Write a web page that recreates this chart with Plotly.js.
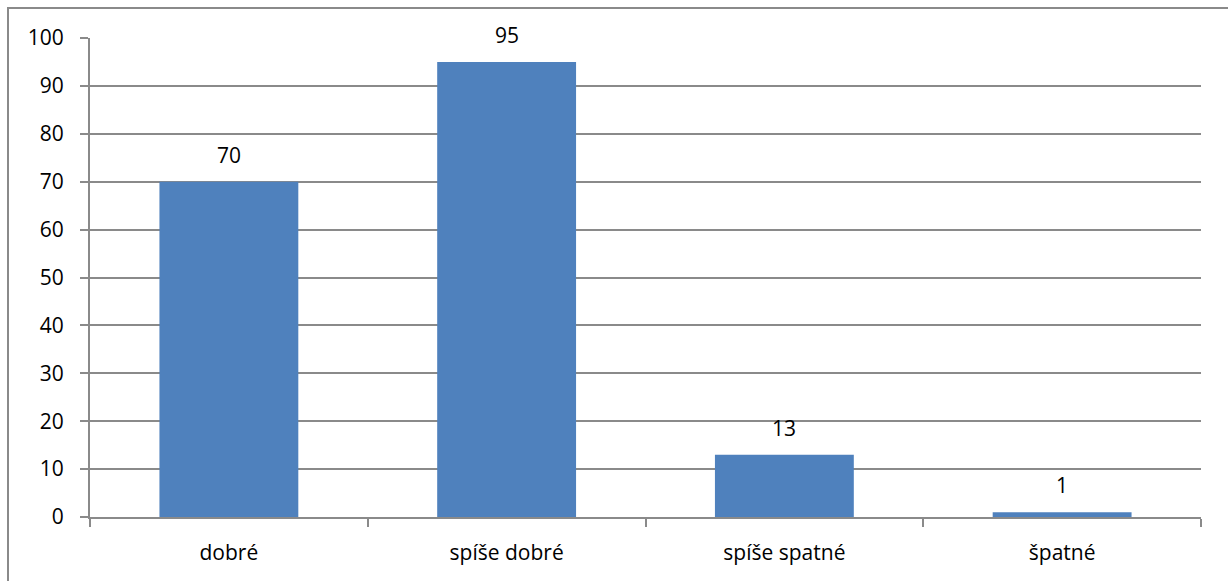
<!DOCTYPE html>
<html>
<head>
<meta charset="utf-8">
<script src="https://cdn.plot.ly/plotly-3.0.1.min.js"></script>
<style>
html,body{margin:0;padding:0;background:#fff;overflow:hidden;}
#wrap{position:relative;width:1228px;height:581px;}
#frame{position:absolute;left:7px;top:7px;width:1300px;height:700px;border-left:2px solid #8a8a8a;border-top:2px solid #8a8a8a;pointer-events:none;}
#chart{position:absolute;left:0;top:0;width:1228px;height:581px;}
</style>
</head>
<body>
<div id="wrap">
<div id="chart"></div>
<div id="frame"></div>
</div>
<script>
const categories = ["dobré", "spíše dobré", "spíše spatné", "špatné"];
const values = [70, 95, 13, 1];
const yTicks = [0, 10, 20, 30, 40, 50, 60, 70, 80, 90, 100];

const FONT = "'Open Sans', sans-serif";

const data = [{
  type: "bar",
  x: categories,
  y: values,
  marker: {color: "#4F81BD"},
  hoverinfo: "x+y"
}];

const annotations = categories.map((c, i) => ({
  x: c, y: values[i], xref: "x", yref: "y",
  text: String(values[i]),
  showarrow: false,
  yanchor: "bottom",
  yshift: 11,
  font: {family: FONT, size: 21, color: "#000"}
}));

const layout = {
  width: 1228, height: 581,
  margin: {l: 90, r: 27, t: 38, b: 64},
  paper_bgcolor: "rgba(0,0,0,0)",
  plot_bgcolor: "#fff",
  bargap: 0.5,
  showlegend: false,
  font: {family: FONT, size: 21, color: "#000"},
  annotations: annotations,
  xaxis: {
    type: "category",
    showline: true, linecolor: "#8a8a8a", linewidth: 2,
    ticks: "outside", tickson: "boundaries", ticklen: 8, tickcolor: "#8a8a8a", tickwidth: 2,
    showgrid: false, zeroline: false,
    ticklabelstandoff: 16,
    tickfont: {size: 21}
  },
  yaxis: {
    range: [0, 100],
    tickvals: yTicks,
    ticktext: yTicks.map(String),
    showline: true, linecolor: "#8a8a8a", linewidth: 2,
    ticks: "outside", ticklen: 8, tickcolor: "#8a8a8a", tickwidth: 2,
    showgrid: true, gridcolor: "#8a8a8a", gridwidth: 2,
    zeroline: false,
    ticklabelstandoff: 12,
    tickfont: {size: 21}
  }
};

Plotly.newPlot("chart", data, layout, {displayModeBar: false, staticPlot: true});
</script>
</body>
</html>
